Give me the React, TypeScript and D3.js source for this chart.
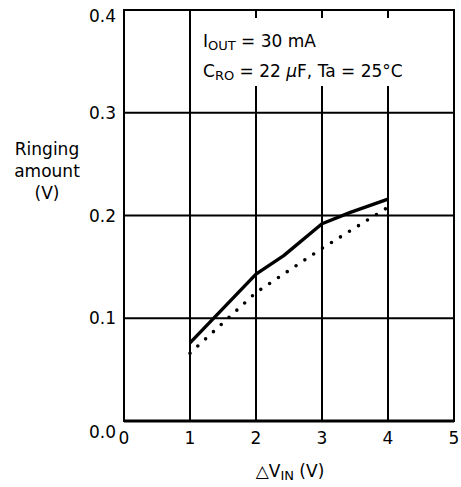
import React from "react";
import * as d3 from "d3";

const xTicks = [0, 1, 2, 3, 4, 5];
const yTicks = [0, 0.1, 0.2, 0.3, 0.4];
const yTickLabels = ["0.0", "0.1", "0.2", "0.3", "0.4"];
const solidX = [1, 2, 2.42, 3, 3.43, 4];
const solidY = [0.076, 0.143, 0.161, 0.192, 0.203, 0.216];
const dottedX = [1, 2, 3, 4];
const dottedY = [0.066, 0.125, 0.168, 0.208];

const W = 461;
const H = 487;
const FONT = "'DejaVu Sans', 'Open Sans', sans-serif";

export default function App() {
  const x = d3.scaleLinear().domain([0, 5]).range([124, 454]);
  const y = d3.scaleLinear().domain([0, 0.4]).range([421, 10]);
  const line = d3
    .line<[number, number]>()
    .x((d) => x(d[0]))
    .y((d) => y(d[1]));
  const solid = solidX.map((v, i) => [v, solidY[i]] as [number, number]);
  const dotted = dottedX.map((v, i) => [v, dottedY[i]] as [number, number]);
  const yOffsets = [11, 0, 0, 0, 6];

  return (
    <svg
      width={W}
      height={H}
      style={{ position: "absolute", left: 0, top: 0, background: "#fff" }}
      fontFamily={FONT}
    >
      <rect x={0} y={0} width={W} height={H} fill="#fff" />
      {xTicks.slice(1, -1).map((t) => (
        <line key={"vx" + t} x1={x(t)} x2={x(t)} y1={y(0.4)} y2={y(0)} stroke="#000" strokeWidth={2} />
      ))}
      {yTicks.slice(1, -1).map((t) => (
        <line key={"hy" + t} x1={x(0)} x2={x(5)} y1={y(t)} y2={y(t)} stroke="#000" strokeWidth={2} />
      ))}
      <rect x={196} y={18} width={252} height={68} fill="#fff" />
      <rect x={x(0)} y={y(0.4)} width={x(5) - x(0)} height={y(0) - y(0.4)} fill="none" stroke="#000" strokeWidth={2} />
      <line x1={x(0)} x2={x(5)} y1={y(0)} y2={y(0)} stroke="#000" strokeWidth={3} />
      <path d={line(solid) || ""} fill="none" stroke="#000" strokeWidth={3.4} strokeLinejoin="round" />
      <path
        d={line(dotted) || ""}
        fill="none"
        stroke="#000"
        strokeWidth={3.6}
        strokeDasharray="0 10.6"
        strokeLinecap="round"
      />
      {yTicks.map((t, i) => (
        <text
          key={"yl" + t}
          x={116}
          y={y(t) + yOffsets[i]}
          textAnchor="end"
          dominantBaseline="central"
          fontSize={17}
        >
          {yTickLabels[i]}
        </text>
      ))}
      {xTicks.map((t) => (
        <text key={"xl" + t} x={x(t)} y={438} textAnchor="middle" dominantBaseline="central" fontSize={17}>
          {t}
        </text>
      ))}
      <text x={47} y={149} textAnchor="middle" dominantBaseline="central" fontSize={17}>Ringing</text>
      <text x={47} y={171} textAnchor="middle" dominantBaseline="central" fontSize={17}>amount</text>
      <text x={47} y={193} textAnchor="middle" dominantBaseline="central" fontSize={17}>(V)</text>
      <text x={290} y={471} textAnchor="middle" dominantBaseline="central" fontSize={17}>
        <tspan>△V</tspan>
        <tspan fontSize={13} dy={4}>IN</tspan>
        <tspan dy={-4}> (V)</tspan>
      </text>
      <text x={203} y={47} fontSize={17}>
        <tspan>I</tspan>
        <tspan fontSize={13} dy={3}>OUT</tspan>
        <tspan dy={-3}> = 30 mA</tspan>
      </text>
      <text x={203} y={77} fontSize={17}>
        <tspan>C</tspan>
        <tspan fontSize={13} dy={3}>RO</tspan>
        <tspan dy={-3}> = 22 </tspan>
        <tspan fontStyle="italic">μ</tspan>
        <tspan>F,  Ta = 25°C</tspan>
      </text>
    </svg>
  );
}
